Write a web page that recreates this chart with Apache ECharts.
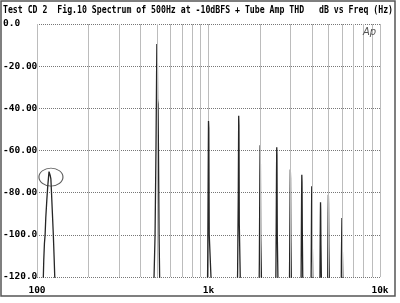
<!DOCTYPE html>
<html>
<head>
<meta charset="utf-8">
<script src="https://cdn.jsdelivr.net/npm/echarts@6/dist/echarts.min.js"></script>
<style>
html,body{margin:0;padding:0;background:#fff;}
#c{width:400px;height:303px;}
</style>
</head>
<body>
<div id="c"></div>
<script>
// ---- Data ----
const titleText = 'Test CD 2  Fig.10 Spectrum of 500Hz at -10dBFS + Tube Amp THD   dB vs Freq (Hz)';
const yTickValues = [0, -20, -40, -60, -80, -100, -120];
const yTickLabels = ['0.0', '-20.00', '-40.00', '-60.00', '-80.00', '-100.0', '-120.0'];
const xTickValues = [100, 1000, 10000];
const xTickLabels = ['100', '1k', '10k'];
const gridFreqs = [200, 300, 400, 500, 600, 700, 800, 900, 2000, 3000, 4000, 5000, 6000, 7000, 8000, 9000];

// spectrum trace [Hz, dB]
const humPeak = [[100,-130],[108.5,-125],[109.5,-112],[110.5,-104],[111.5,-100],[112.5,-92],[114,-84],[115.5,-77],[117.5,-70],[118.5,-71],[119.5,-72],[120.5,-73.5],[121.5,-80],[123,-90],[124.5,-100],[126,-112],[127.5,-125],[130,-130]];
const peak500 = [[478,-130],[482,-118],[488,-100],[494,-60],[498,-25],[500,-9.5],[503,-13],[505,-36],[508,-38],[511,-62],[515,-100],[520,-125],[525,-130]];
const peak1k = [[985,-130],[990,-110],[996,-70],[1000,-46],[1004,-49.5],[1010,-100],[1040,-125],[1050,-130]];
const peak1k5 = [[1470,-130],[1478,-118],[1492,-80],[1500,-43.5],[1505,-48],[1512,-95],[1533,-122],[1540,-130]];
const peak2k = [[1970,-130],[1980,-112],[1993,-72],[2000,-57.5],[2006,-62],[2015,-100],[2040,-125],[2050,-130]];
const peak2k5 = [[2465,-130],[2475,-112],[2492,-72],[2500,-58.5],[2507,-62],[2518,-100],[2545,-125],[2555,-130]];
const peak3k = [[2960,-130],[2972,-112],[2990,-82],[3000,-69],[3008,-73],[3020,-100],[3045,-125],[3055,-130]];
const peak3k5 = [[3460,-130],[3472,-112],[3490,-82],[3500,-71.5],[3510,-75],[3525,-100],[3550,-125],[3560,-130]];
const peak4k = [[3960,-130],[3972,-112],[3990,-86],[4000,-77],[4010,-80],[4025,-100],[4060,-125],[4070,-130]];
const peak4k5 = [[4460,-130],[4472,-112],[4490,-92],[4500,-84.5],[4510,-88],[4525,-105],[4560,-125],[4570,-130]];
const peak5k = [[4950,-130],[4962,-112],[4985,-90],[5000,-81],[5010,-85],[5030,-105],[5070,-125],[5080,-130]];
const peak6k = [[5940,-130],[5955,-112],[5980,-100],[6000,-92],[6015,-96],[6035,-108],[6080,-125],[10000,-130]];
const circleMark = [[120.6, -72.6]];

const spectrum = [].concat(humPeak, peak500, peak1k, peak1k5, peak2k, peak2k5, peak3k, peak3k5, peak4k, peak4k5, peak5k, peak6k);

const chart = echarts.init(document.getElementById('c'), null, {renderer: 'canvas'});
const monoFont = '"DejaVu Sans Mono", "Liberation Mono", monospace';

chart.setOption({
  animation: false,
  backgroundColor: '#ffffff',
  grid: {left: 36, right: 20, top: 24, bottom: 26, containLabel: false},
  xAxis: {
    type: 'log', logBase: 10, min: 100, max: 10000,
    axisLine: {show: false}, axisTick: {show: false},
    axisLabel: {
      margin: 9, color: '#000', fontFamily: monoFont, fontSize: 9.5, fontWeight: 'bold',
      formatter: function (v) { const i = xTickValues.indexOf(Math.round(v)); return i >= 0 ? xTickLabels[i] : ''; }
    },
    splitLine: {show: true, lineStyle: {color: '#bcbcbc', width: 1, type: 'solid'}}
  },
  yAxis: {
    type: 'value', min: -120, max: 0, interval: 20,
    axisLine: {show: false}, axisTick: {show: false},
    axisLabel: {
      margin: 34, align: 'left', color: '#000', fontFamily: monoFont, fontSize: 9.5, fontWeight: 'bold',
      formatter: function (v) { const i = yTickValues.indexOf(Math.round(v)); return i >= 0 ? yTickLabels[i] : ''; }
    },
    splitLine: {show: true, lineStyle: {color: '#777', width: 1, type: [1, 1]}}
  },
  graphic: [
    {type: 'rect', shape: {x: 1, y: 1, width: 394, height: 295}, style: {fill: 'none', stroke: '#555', lineWidth: 1.5}, z: 100},
    {type: 'text', x: 3, y: 10, scaleX: 0.82, style: {text: titleText, font: 'bold 10px ' + monoFont, fill: '#000', textVerticalAlign: 'middle'}, z: 100},
    {type: 'text', x: 363, y: 32, style: {text: 'Ap', font: 'italic 10px "DejaVu Sans", sans-serif', fill: '#555', textVerticalAlign: 'middle'}, z: 100}
  ],
  series: [
    {
      type: 'line', data: [], z: 1, silent: true,
      markLine: {
        silent: true, symbol: ['none', 'none'], label: {show: false},
        lineStyle: {color: '#bcbcbc', width: 1, type: 'solid'},
        data: gridFreqs.map(f => ({xAxis: f}))
      }
    },
    {
      type: 'line', data: spectrum, z: 3, showSymbol: false, symbol: 'none', silent: true,
      lineStyle: {color: '#262626', width: 1.3}, clip: true
    },
    {
      type: 'scatter', data: circleMark, z: 4, symbol: 'circle', symbolSize: [24, 18], silent: true,
      itemStyle: {color: 'rgba(0,0,0,0)', borderColor: '#333', borderWidth: 1}
    }
  ]
});
</script>
</body>
</html>
